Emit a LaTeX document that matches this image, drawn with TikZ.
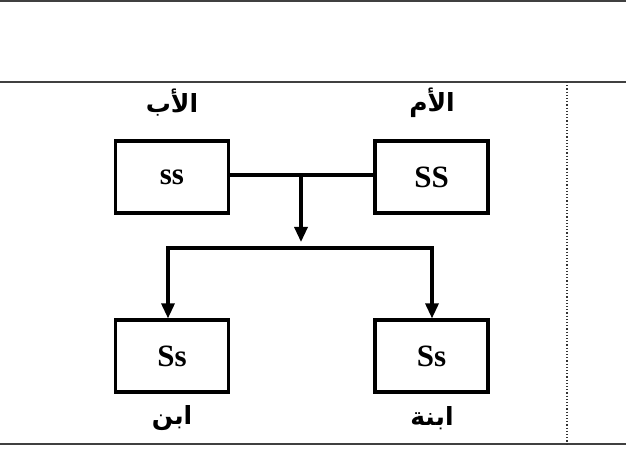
\documentclass[tikz,border=0pt]{standalone}
\usepackage{fontspec}
\setmainfont{Liberation Serif}
\newfontfamily\arabicfont[Script=Arabic]{DejaVu Sans}
\TeXXeTstate=1
\usetikzlibrary{arrows.meta}
\begin{document}
\begin{tikzpicture}[x=1pt,y=-1pt,
  gbox/.style={draw=black,line width=3.2pt,minimum width=113pt,minimum height=72pt,inner sep=0pt,font=\fontsize{31}{34}\selectfont\bfseries},
  lab/.style={inner sep=0pt,font=\arabicfont\bfseries\fontsize{25}{28}\selectfont},
  rule/.style={draw=black!75,line width=2pt},
  conn/.style={line width=3.2pt},
  arr/.style={conn,-{Triangle[width=13pt,length=15pt]}}]
\useasboundingbox (0,0) rectangle (626,470);
\coordinate (tl) at (0,1.5);
\coordinate (tr) at (626,1.5);
\coordinate (ml) at (0,82);
\coordinate (mr) at (626,82);
\coordinate (bl) at (0,444);
\coordinate (br) at (626,444);
\coordinate (dt) at (567,82);
\coordinate (db) at (567,444);
\draw[rule] (tl) -- (tr);
\draw[rule] (ml) -- (mr);
\draw[rule] (bl) -- (br);
\draw[black!80,line width=1.2pt,dotted] (dt) -- (db);

\node[gbox] (fa) at (172,177) {ss};
\node[gbox] (mo) at (431.5,177) {SS};
\node[gbox] (so) at (172,356) {Ss};
\node[gbox] (da) at (431.5,356) {Ss};
\node[lab] (lfa) at (172,103) {\beginR الأب\endR};
\node[lab] (lmo) at (432,103) {\beginR الأم\endR};
\node[lab] (lso) at (172,418) {\beginR ابن\endR};
\node[lab] (lda) at (432,418) {\beginR ابنة\endR};

\coordinate (j) at (301,175);
\coordinate (jt) at (301,242);
\coordinate (hl) at (168,248);
\coordinate (hr) at (432,248);
\draw[conn] (fa.east |- j) -- (mo.west |- j);
\draw[arr] (j) -- (jt);
\draw[conn,line cap=rect] (hl) -- (hr);
\draw[arr] (hl) -- (hl |- so.north);
\draw[arr] (hr) -- (hr |- da.north);
\end{tikzpicture}
\end{document}
